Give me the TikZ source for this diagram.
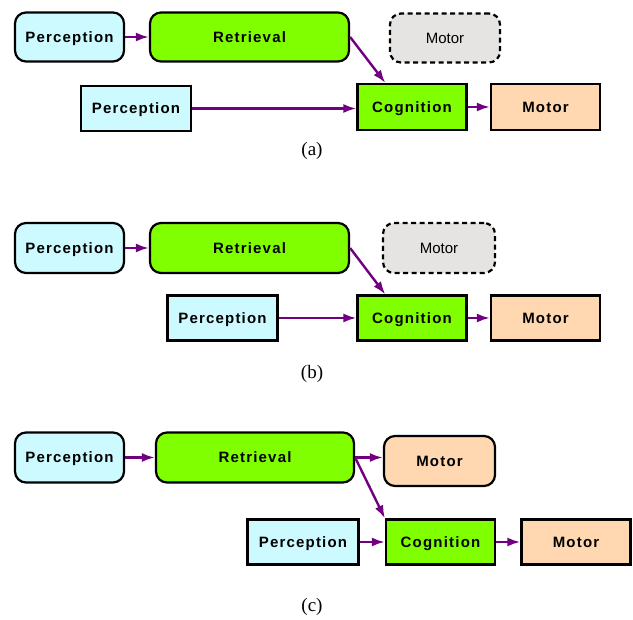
\documentclass[tikz,border=0pt]{standalone}
\usepackage{fontspec}
\setmainfont{Liberation Serif}
\setsansfont{Liberation Sans}
\usetikzlibrary{arrows.meta, calc}
\definecolor{stcyan}{HTML}{CCFAFF}
\definecolor{stgreen}{HTML}{80FF00}
\definecolor{stpeach}{HTML}{FFD7B0}
\definecolor{stgray}{HTML}{E6E3E3}
\definecolor{stpurple}{HTML}{700080}

\begin{document}
\begin{tikzpicture}[x=1pt, y=-1pt,
  sbox/.style={draw=black, line width=2.2pt, fill=#1, minimum width=109pt, minimum height=45pt, inner sep=2pt,
    text height=11pt, text depth=0pt,
    font=\sffamily\bfseries\fontsize{15}{18}\selectfont\addfontfeature{LetterSpace=8}},
  rbox/.style={sbox=#1, rounded corners=11pt, minimum height=49pt},
  ghost/.style={draw=black, line width=2.2pt, dash pattern=on 5pt off 3.5pt, fill=stgray, rounded corners=11pt,
    minimum width=110pt, minimum height=49pt, text height=11pt, text depth=0pt, font=\sffamily\fontsize{15}{18}\selectfont},
  arr/.style={-{Latex[length=13pt, width=9pt]}, line width=2.4pt, stpurple},
  caption/.style={font=\fontsize{19}{22}\selectfont},
]
  \useasboundingbox (0,0) rectangle (633,620);

  % (a)
  \node[rbox=stcyan] (pa1) at (69.5,37) {Perception};
  \node[rbox=stgreen, minimum width=199pt] (ra) at (249.5,37) {Retrieval};
  \node[ghost] (ga) at (445,38) {Motor};
  \node[sbox=stcyan, minimum width=110pt] (pa2) at (136,108.5) {Perception};
  \node[sbox=stgreen, minimum height=46pt] (ca) at (412,107) {Cognition};
  \node[sbox=stpeach, minimum height=46pt] (ma) at (545.5,107) {Motor};
  \node[caption] (capa) at (312,151) {(a)};

  \draw[arr] (pa1) -- (ra);
  \draw[arr] (ra.east) -- ($(ca.north west)!0.26!(ca.north east)$);
  \draw[arr] (pa2.east) -- (pa2.east -| ca.west);
  \draw[arr] (ca) -- (ma);

  % (b)
  \node[rbox=stcyan, minimum height=50pt] (pb1) at (69.5,248) {Perception};
  \node[rbox=stgreen, minimum width=199pt, minimum height=50pt] (rb) at (249.5,248) {Retrieval};
  \node[ghost, minimum width=112pt, minimum height=50pt] (gb) at (439,248) {Motor};
  \node[sbox=stcyan, minimum width=110pt] (pb2) at (222.5,318) {Perception};
  \node[sbox=stgreen] (cb) at (412,318) {Cognition};
  \node[sbox=stpeach] (mb) at (545.5,318) {Motor};
  \node[caption] (capb) at (312,374) {(b)};

  \draw[arr] (pb1) -- (rb);
  \draw[arr] (rb.east) -- ($(cb.north west)!0.26!(cb.north east)$);
  \draw[arr] (pb2) -- (cb);
  \draw[arr] (cb) -- (mb);

  % (c)
  \node[rbox=stcyan, minimum height=50pt] (pc1) at (69.5,457.5) {Perception};
  \node[rbox=stgreen, minimum width=198pt, minimum height=50pt] (rc) at (255,457.5) {Retrieval};
  \node[rbox=stpeach, minimum width=111pt, minimum height=50pt] (mc1) at (439.5,461) {Motor};
  \node[sbox=stcyan, minimum width=111pt] (pc2) at (303,542) {Perception};
  \node[sbox=stgreen] (cc) at (440.5,542) {Cognition};
  \node[sbox=stpeach] (mc2) at (576,542) {Motor};
  \node[caption] (capc) at (312,607) {(c)};

  \draw[arr] (pc1) -- (rc);
  \draw[arr] (rc.east) -- (rc.east -| mc1.west);
  \draw[arr] (rc.east) -- (cc.north west);
  \draw[arr] (pc2) -- (cc);
  \draw[arr] (cc) -- (mc2);
\end{tikzpicture}
\end{document}
